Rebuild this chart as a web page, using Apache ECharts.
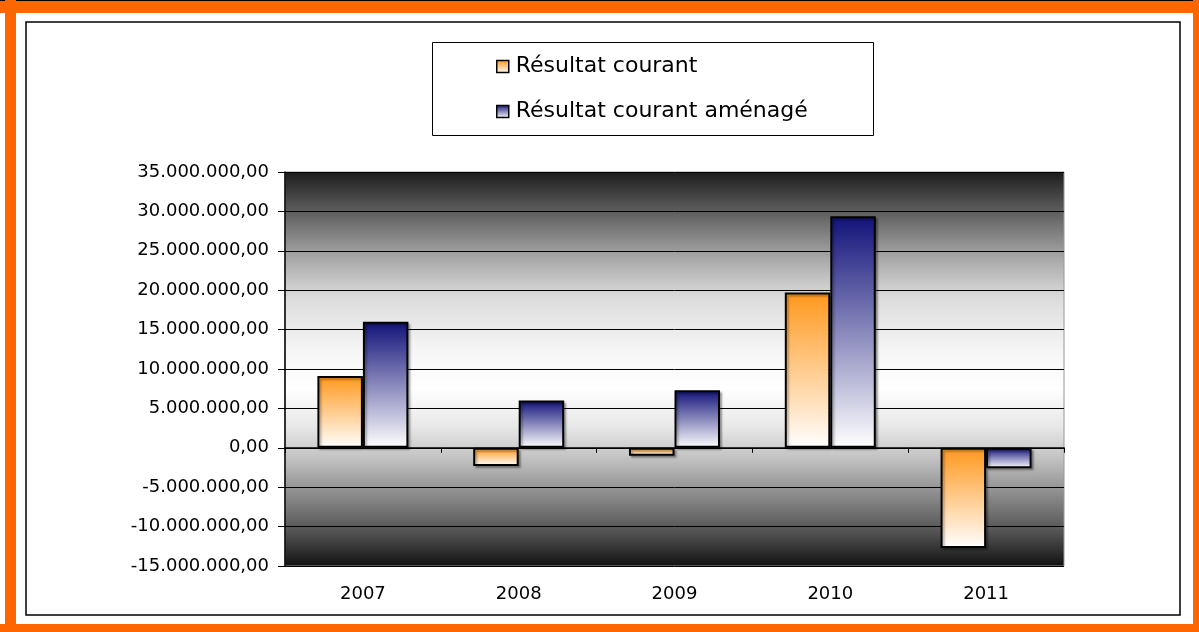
<!DOCTYPE html>
<html>
<head>
<meta charset="utf-8">
<script src="https://cdn.jsdelivr.net/npm/echarts@6/dist/echarts.min.js"></script>
<style>
  html, body { margin: 0; padding: 0; background: #fff; }
  #chart { width: 1199px; height: 632px; }
</style>
</head>
<body>
<div id="chart"></div>
<script>
// données
const years = ["2007", "2008", "2009", "2010", "2011"];
const resultatCourant = [9100000, -2300000, -1000000, 19700000, -12700000];
const resultatAmenage = [16000000, 6000000, 7300000, 29400000, -2600000];
const seriesNames = ["Résultat courant", "Résultat courant aménagé"];

// 35.000.000,00
function fmt(v) {
  let neg = v < 0;
  let s = Math.abs(v).toFixed(0).replace(/\B(?=(\d{3})+(?!\d))/g, ".");
  return (neg ? "-" : "") + s + ",00";
}

function vGrad(top, bottom) {
  return {
    type: "linear", x: 0, y: 0, x2: 0, y2: 1,
    colorStops: [
      { offset: 0, color: top },
      { offset: 1, color: bottom },
    ],
  };
}

const barStyle = {
  borderColor: "#000",
  borderWidth: 2,
  shadowColor: "rgba(0,0,0,0.3)",
  shadowOffsetX: 2,
  shadowOffsetY: 2,
  shadowBlur: 2,
};

let myChart = echarts.init(document.getElementById("chart"));
myChart.setOption({
  animation: false,
  backgroundColor: "#fff",
  textStyle: { fontFamily: "DejaVu Sans", color: "#000" },
  graphic: [
    // cadre orange
    { type: "rect", shape: { x: 0, y: 0, width: 1199, height: 13 }, style: { fill: "#ff6600" } },
    { type: "rect", shape: { x: 0, y: 0, width: 1199, height: 1 }, style: { fill: "#000" } },
    { type: "rect", shape: { x: 5, y: 0, width: 11, height: 632 }, style: { fill: "#ff6600" } },
    { type: "rect", shape: { x: 1193, y: 0, width: 6, height: 632 }, style: { fill: "#ff6600" } },
    { type: "rect", shape: { x: 0, y: 624, width: 1199, height: 8 }, style: { fill: "#ff6600" } },
    // cadre noir intérieur
    { type: "rect", shape: { x: 26, y: 22, width: 1154, height: 593 }, style: { fill: "none", stroke: "#000", lineWidth: 1.5 } },
    // boîte de légende
    { type: "rect", z: 0, shape: { x: 432.5, y: 42.5, width: 441, height: 93 }, style: { fill: "none", stroke: "#000", lineWidth: 1 } },
  ],
  legend: {
    orient: "vertical",
    left: 491,
    top: 50,
    itemWidth: 12,
    itemHeight: 12,
    itemGap: 22,
    icon: "rect",
    itemStyle: { borderColor: "#000", borderWidth: 1.5 },
    textStyle: { fontSize: 22, fontFamily: "DejaVu Sans", color: "#000", lineHeight: 23, padding: [0, 0, 0, 2] },
    data: seriesNames,
  },
  grid: {
    left: 285,
    top: 172,
    right: 135,
    bottom: 66,
    show: true,
    borderColor: "#999",
    borderWidth: 1,
    backgroundColor: {
      type: "linear", x: 0, y: 0, x2: 0, y2: 1,
      colorStops: [
        { offset: 0, color: "#1c1c1c" },
        { offset: 0.07, color: "#4a4a4a" },
        { offset: 0.22, color: "#a8a8a8" },
        { offset: 0.32, color: "#dcdcdc" },
        { offset: 0.45, color: "#f5f5f5" },
        { offset: 0.55, color: "#ffffff" },
        { offset: 0.65, color: "#e6e6e6" },
        { offset: 0.73, color: "#c0c0c0" },
        { offset: 0.81, color: "#909090" },
        { offset: 0.91, color: "#555555" },
        { offset: 1, color: "#111111" },
      ],
    },
  },
  xAxis: [
    {
      type: "category",
      data: years,
      axisLine: { onZero: true, lineStyle: { color: "#000", width: 1.5 } },
      axisTick: { show: true, length: 5, lineStyle: { color: "#000" } },
      axisLabel: { show: false },
    },
    {
      type: "category",
      data: years,
      position: "bottom",
      axisLine: { show: false, onZero: false },
      axisTick: { show: false },
      axisLabel: { fontSize: 18, fontFamily: "DejaVu Sans", color: "#000", margin: 19 },
    },
  ],
  yAxis: {
    type: "value",
    min: -15000000,
    max: 35000000,
    interval: 5000000,
    axisLine: { show: true, lineStyle: { color: "#000", width: 1.5 } },
    axisTick: { show: true, length: 7, lineStyle: { color: "#000" } },
    axisLabel: { formatter: fmt, fontSize: 18, fontFamily: "DejaVu Sans", color: "#000", margin: 16 },
    splitLine: { show: true, lineStyle: { color: "#000", width: 1 } },
  },
  series: [
    {
      name: seriesNames[0],
      type: "bar",
      xAxisIndex: 0,
      data: resultatCourant,
      barGap: "0%",
      barCategoryGap: "41.6%",
      itemStyle: Object.assign({ color: vGrad("#ff981c", "#ffffff") }, barStyle),
    },
    {
      name: seriesNames[1],
      type: "bar",
      xAxisIndex: 0,
      data: resultatAmenage,
      barGap: "0%",
      barCategoryGap: "41.6%",
      itemStyle: Object.assign({ color: vGrad("#12127a", "#ffffff") }, barStyle),
    },
  ],
});
</script>
</body>
</html>
